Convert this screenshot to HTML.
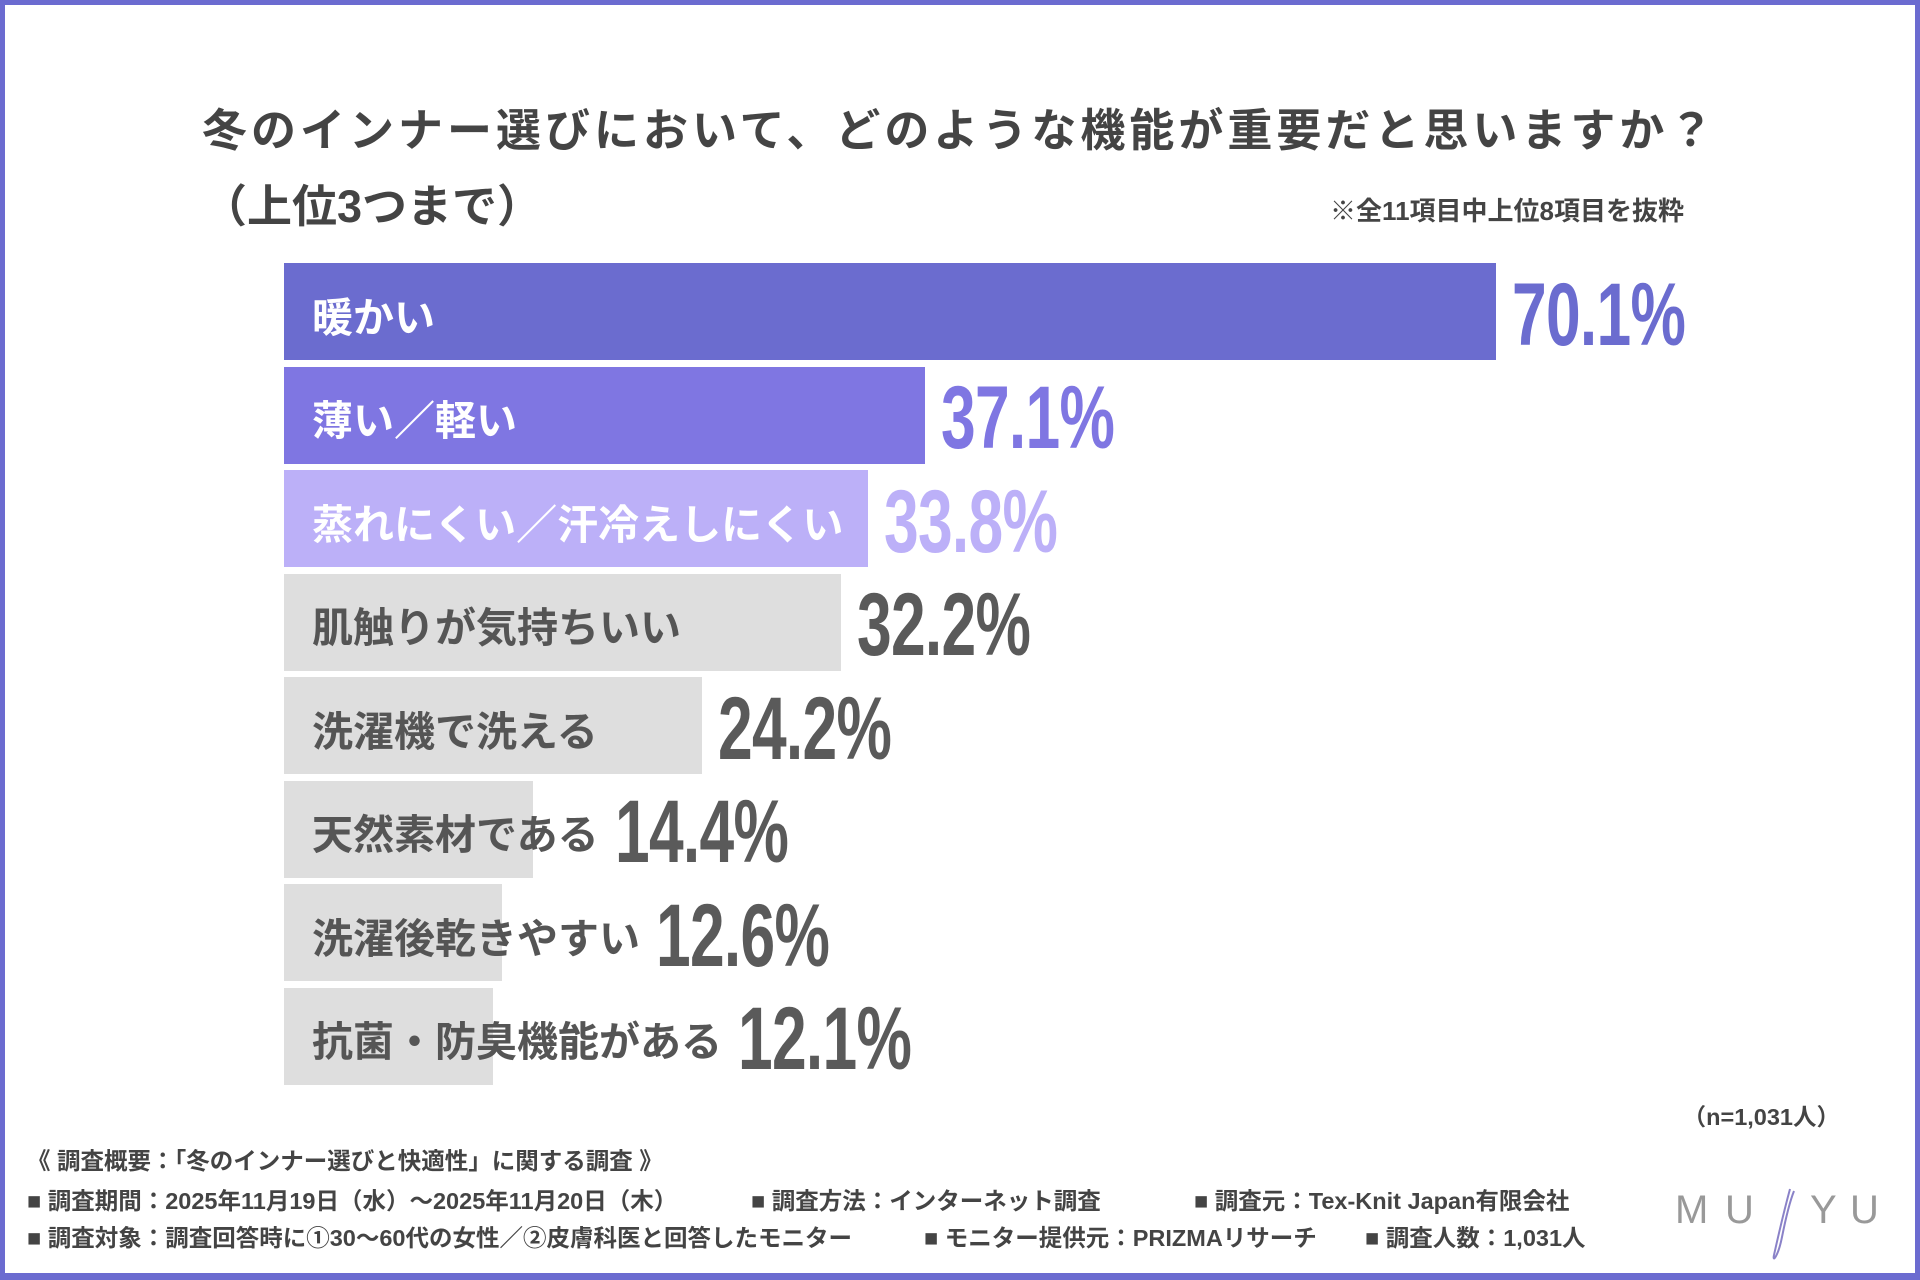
<!DOCTYPE html>
<html><head><meta charset="utf-8"><style>
html,body{margin:0;padding:0}
body{width:1920px;height:1280px;position:relative;overflow:hidden;background:#fff;font-family:"Liberation Sans","Noto Sans CJK JP",sans-serif}
#frame{position:absolute;left:0;top:0;width:1920px;height:1280px;box-sizing:border-box;border:5px solid #6b6bd0;border-bottom-width:7px}
.t{position:absolute;white-space:nowrap;font-weight:bold}
.bar{position:absolute}
.lbl{position:absolute;white-space:nowrap;font-weight:bold;font-size:41px;line-height:1}
.val{position:absolute;white-space:nowrap;font-weight:bold;font-family:"Liberation Sans Narrow","Liberation Sans",sans-serif;font-size:89px;line-height:1;transform:scaleX(0.70);transform-origin:left center;letter-spacing:-1px}
.ft{position:absolute;white-space:nowrap;font-weight:bold;font-size:23.5px;color:#444;line-height:1}
</style></head><body>
<div id="frame"></div>
<div class="t" style="left:202px;top:94px;font-size:45px;letter-spacing:4px;color:#444">冬のインナー選びにおいて、どのような機能が重要だと思いますか？</div>
<div class="t" style="left:202px;top:170px;font-size:45px;color:#444">（上位3つまで）</div>
<div class="t" style="right:236px;top:191px;font-size:26px;color:#444">※全11項目中上位8項目を抜粋</div>
<div id="chart"></div>
<div class="ft" style="right:80px;top:1106px">（n=1,031人）</div>
<div class="ft" style="left:27px;top:1150px">《 調査概要：「冬のインナー選びと快適性」に関する調査 》</div>
<div class="ft" style="left:27px;top:1190px">■ 調査期間：2025年11月19日（水）～2025年11月20日（木）</div>
<div class="ft" style="left:751px;top:1190px">■ 調査方法：インターネット調査</div>
<div class="ft" style="left:1194px;top:1190px">■ 調査元：Tex-Knit Japan有限会社</div>
<div class="ft" style="left:27px;top:1227px">■ 調査対象：調査回答時に①30～60代の女性／②皮膚科医と回答したモニター</div>
<div class="ft" style="left:924px;top:1227px">■ モニター提供元：PRIZMAリサーチ</div>
<div class="ft" style="left:1365px;top:1227px">■ 調査人数：1,031人</div>
<svg style="position:absolute;left:1670px;top:1175px" width="215" height="90">
<g font-family="Liberation Sans" font-size="40" fill="#999">
<text x="5" y="48">M</text><text x="55" y="48">U</text><text x="140" y="48">Y</text><text x="180" y="48">U</text>
</g>
<path d="M120 14 C114 36 108 62 104 80 C102 88 108 82 112 62 C116 42 120 26 124 16" fill="none" stroke="#8a82c8" stroke-width="2"/>
</svg>
<script>
const categories=["暖かい","薄い／軽い","蒸れにくい／汗冷えしにくい","肌触りが気持ちいい","洗濯機で洗える","天然素材である","洗濯後乾きやすい","抗菌・防臭機能がある"];
const values=[70.1,37.1,33.8,32.2,24.2,14.4,12.6,12.1];
const valueLabels=["70.1%","37.1%","33.8%","32.2%","24.2%","14.4%","12.6%","12.1%"];
const barColors=["#6b6ccf","#7f76e2","#bcb0f8","#dedede","#dedede","#dedede","#dedede","#dedede"];
const textColors=["#6b6ccf","#7f76e2","#bcb0f8","#5a5a5a","#5a5a5a","#5a5a5a","#5a5a5a","#5a5a5a"];
const labelColors=["#fff","#fff","#fff","#555","#555","#555","#555","#555"];
const x0=284, pxPer=1212/70.1, top0=263, pitch=103.5, bh=97;
const xs=v=>v*pxPer;
const chart=document.getElementById('chart');
categories.forEach((c,i)=>{
  const y=top0+i*pitch;
  const b=document.createElement('div');
  b.className='bar';
  
  
  b.style.cssText=`left:${x0}px;top:${y}px;width:${xs(values[i])}px;height:${bh}px;background:${barColors[i]}`;
  chart.appendChild(b);
  const l=document.createElement('div');
  l.className='lbl';
  
  
  l.textContent=c;
  l.style.cssText=`left:312px;top:${y+bh/2-14}px;color:${labelColors[i]}`;
  chart.appendChild(l);
  const right=Math.max(x0+xs(values[i]),312+l.offsetWidth);
  const v=document.createElement('div');
  v.className='val';
  
  
  v.textContent=valueLabels[i];
  v.style.cssText=`left:${right+16}px;top:${y+bh/2-42}px;color:${textColors[i]}`;
  chart.appendChild(v);
});
</script>
</body></html>
